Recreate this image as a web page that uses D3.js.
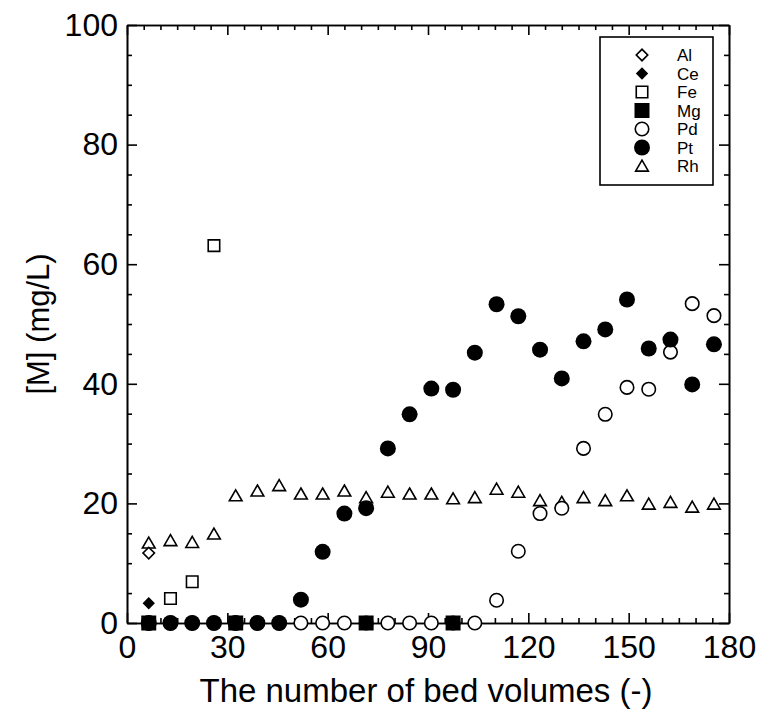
<!DOCTYPE html>
<html>
<head>
<meta charset="utf-8">
<script src="https://cdn.jsdelivr.net/npm/d3@7"></script>
<style>
  body { margin: 0; background: #fff; }
  text { font-family: Arial, "Liberation Sans", sans-serif; fill: #000; }
</style>
</head>
<body>
<div id="chart"></div>
<script>
const width = 760;
const height = 715;

// bed volumes where samples were taken
const bedVolumes = [6.5, 13, 19.5, 26, 32.5, 39, 45.5, 52, 58.5, 65, 71.5, 78, 84.5, 91,
    97.5, 104, 110.5, 117, 123.5, 130, 136.5, 143, 149.5, 156, 162.5, 169, 175.5];

const alX = [6.5];
const alY = [11.7];
const ceX = [6.5];
const ceY = [3.3];
const feX = [13, 19.5, 26];
const feY = [4.1, 6.9, 63.1];
const mgX = [6.5, 32.5, 71.5, 97.5];
const mgY = [0, 0, 0, 0];
const pdY = [0, 0, 0, 0, 0, 0, 0, 0, 0, 0, 0, 0, 0, 0, 0, 0,
    3.8, 12.0, 18.3, 19.2, 29.2, 34.9, 39.4, 39.1, 45.3, 53.4, 51.4];
const ptY = [0, 0, 0, 0, 0, 0, 0, 3.9, 11.9, 18.3, 19.2, 29.2, 34.9, 39.2, 39.0, 45.2,
    53.3, 51.3, 45.7, 40.9, 47.1, 49.1, 54.1, 45.9, 47.4, 39.9, 46.6];
const rhY = [13.4, 13.8, 13.5, 14.9, 21.3, 22.1, 23.0, 21.6, 21.6, 22.1, 21.0, 21.9, 21.6, 21.6,
    20.8, 21.0, 22.4, 21.9, 20.5, 20.2, 21.0, 20.5, 21.3, 19.9, 20.2, 19.4, 19.9];

const xTicks = [0, 30, 60, 90, 120, 150, 180];
const yTicks = [0, 20, 40, 60, 80, 100];

const series = [
    {name: "Al", shape: "diamond", filled: false, xs: alX, ys: alY},
    {name: "Ce", shape: "diamond", filled: true, xs: ceX, ys: ceY},
    {name: "Fe", shape: "square", filled: false, xs: feX, ys: feY},
    {name: "Mg", shape: "square", filled: true, xs: mgX, ys: mgY},
    {name: "Pd", shape: "circle", filled: false, xs: bedVolumes, ys: pdY},
    {name: "Pt", shape: "circle", filled: true, xs: bedVolumes, ys: ptY},
    {name: "Rh", shape: "triangle", filled: false, xs: bedVolumes, ys: rhY}
];
// drawing order on the plot
const drawOrder = ["Rh", "Al", "Ce", "Fe", "Pd", "Pt", "Mg"];

const margin = {left: 127, right: 31, top: 25, bottom: 92};

const x = d3.scaleLinear().domain([0, 180]).range([margin.left, width - margin.right]);
const y = d3.scaleLinear().domain([0, 100]).range([height - margin.bottom, margin.top]);

const svg = d3.select('#chart')
    .append('svg')
    .attr('width', width)
    .attr('height', height);

// marker path for a series
function markerPath(s) {
    if (s.shape === "circle") return d3.symbol(d3.symbolCircle, s.filled ? 201 : 143)();
    if (s.shape === "square") return d3.symbol(d3.symbolSquare, s.filled ? 225 : 132)();
    if (s.shape === "diamond") return d3.symbol(d3.symbolSquare, s.filled ? 76 : 66)();
    return d3.symbol(d3.symbolTriangle, 70)();
}
function markerTransform(s, px, py) {
    let t = `translate(${px},${py})`;
    if (s.shape === "diamond") t += ' rotate(45)';
    if (s.shape === "triangle") t += ' translate(0,1.5)';
    return t;
}

// axes: ticks point inward on all four sides
const minorX = d3.range(0, 181, 5).filter(v => v % 30 !== 0);
const minorY = d3.range(0, 101, 5).filter(v => v % 20 !== 0);

function styleAxis(g) {
    g.select('.domain').attr('stroke-width', 1.6);
    g.selectAll('.tick line').attr('stroke-width', 1.6);
    g.selectAll('.tick text').attr('font-size', 32).attr('font-family', 'Arial, "Liberation Sans", sans-serif');
}

svg.append('g')
    .attr('transform', `translate(0,${y(0)})`)
    .call(d3.axisBottom(x).tickValues(xTicks).tickSize(-10).tickSizeOuter(0).tickPadding(12))
    .call(styleAxis);
svg.append('g')
    .attr('transform', `translate(0,${y(0)})`)
    .call(d3.axisBottom(x).tickValues(minorX).tickSize(-5).tickFormat('').tickSizeOuter(0))
    .call(styleAxis);
svg.append('g')
    .attr('transform', `translate(0,${y(100)})`)
    .call(d3.axisTop(x).tickValues(xTicks).tickSize(-10).tickFormat('').tickSizeOuter(0))
    .call(styleAxis);
svg.append('g')
    .attr('transform', `translate(0,${y(100)})`)
    .call(d3.axisTop(x).tickValues(minorX).tickSize(-5).tickFormat('').tickSizeOuter(0))
    .call(styleAxis);

svg.append('g')
    .attr('transform', `translate(${x(0)},0)`)
    .call(d3.axisLeft(y).tickValues(yTicks).tickSize(-10).tickSizeOuter(0).tickPadding(9))
    .call(styleAxis);
svg.append('g')
    .attr('transform', `translate(${x(0)},0)`)
    .call(d3.axisLeft(y).tickValues(minorY).tickSize(-5).tickFormat('').tickSizeOuter(0))
    .call(styleAxis);
svg.append('g')
    .attr('transform', `translate(${x(180)},0)`)
    .call(d3.axisRight(y).tickValues(yTicks).tickSize(-10).tickFormat('').tickSizeOuter(0))
    .call(styleAxis);
svg.append('g')
    .attr('transform', `translate(${x(180)},0)`)
    .call(d3.axisRight(y).tickValues(minorY).tickSize(-5).tickFormat('').tickSizeOuter(0))
    .call(styleAxis);

// axis titles
svg.append('text')
    .attr('x', (x(0) + x(180)) / 2 - 2)
    .attr('y', 702)
    .attr('text-anchor', 'middle')
    .attr('font-size', 33)
    .text('The number of bed volumes (-)');

svg.append('text')
    .attr('transform', `translate(49,${(y(0) + y(100)) / 2}) rotate(-90)`)
    .attr('text-anchor', 'middle')
    .attr('font-size', 31)
    .text('[M] (mg/L)');

// points
const byName = {};
series.forEach(s => byName[s.name] = s);
drawOrder.forEach(name => {
    const s = byName[name];
    svg.append('g')
        .selectAll('path')
        .data(s.xs.map((v, i) => [v, s.ys[i]]))
        .enter().append('path')
        .attr('d', markerPath(s))
        .attr('transform', d => markerTransform(s, x(d[0]), y(d[1])))
        .attr('fill', s.filled ? '#000' : '#fff')
        .attr('stroke', '#000')
        .attr('stroke-width', s.filled ? 0 : 1.6);
});

// legend
const legend = svg.append('g');
legend.append('rect')
    .attr('x', 600).attr('y', 37)
    .attr('width', 113).attr('height', 148)
    .attr('fill', '#fff')
    .attr('stroke', '#000')
    .attr('stroke-width', 1.6);

const rows = legend.selectAll('.row')
    .data(series)
    .enter().append('g')
    .attr('class', 'row');

rows.append('path')
    .attr('d', s => markerPath(s))
    .attr('transform', (s, i) => markerTransform(s, 642, 55 + i * 18.5))
    .attr('fill', s => s.filled ? '#000' : '#fff')
    .attr('stroke', '#000')
    .attr('stroke-width', s => s.filled ? 0 : 1.6);

rows.append('text')
    .attr('x', 677)
    .attr('y', (s, i) => 55 + i * 18.5)
    .attr('dy', '0.36em')
    .attr('font-size', 17)
    .text(s => s.name);
</script>
</body>
</html>
